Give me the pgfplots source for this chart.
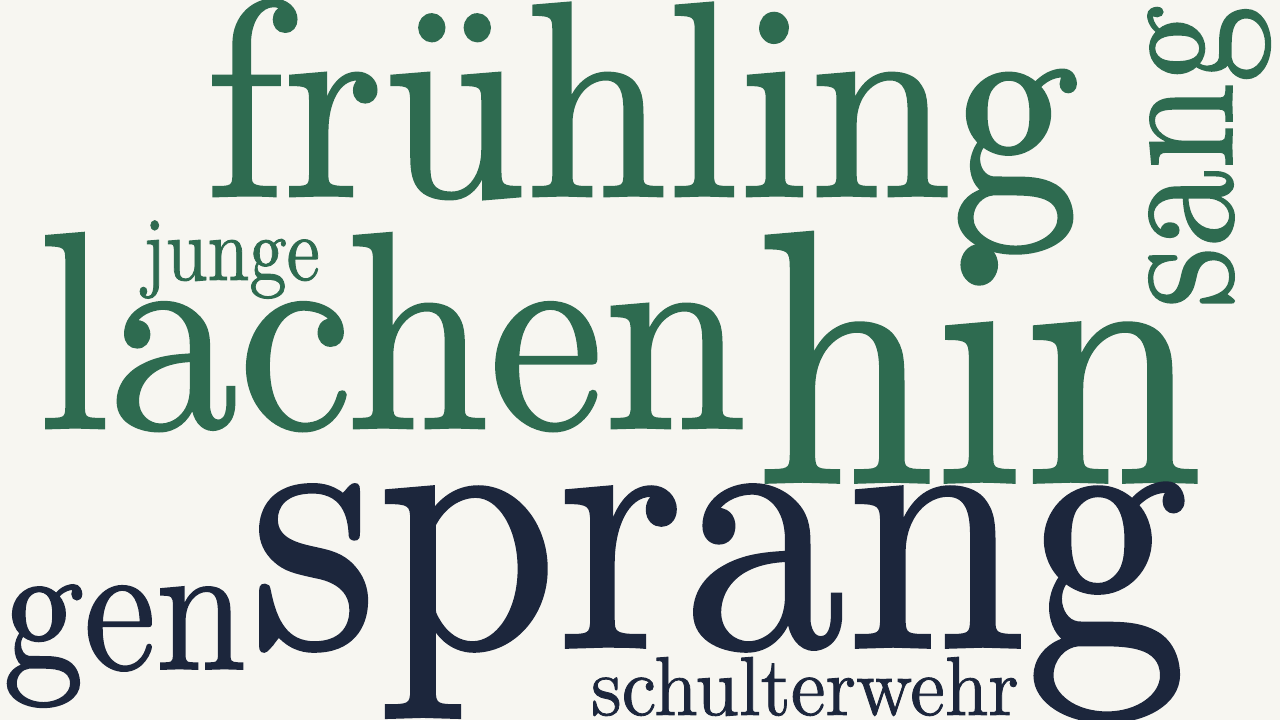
\documentclass[border=0pt]{standalone}
\usepackage{fontspec}
\usepackage{graphicx}
\usepackage{pgfplots}
\pgfplotsset{compat=1.18}

\newfontfamily\wordfont{Latin Modern Roman}[FakeBold=1]

\definecolor{paper}{RGB}{247,246,241}
\definecolor{leaf}{RGB}{46,107,80}
\definecolor{ink}{RGB}{28,38,60}

% one pixel of the 1280x720 picture
\newlength{\pxu}\setlength{\pxu}{0.01cm}
% a word stretched to a given width and x-height (both in pixels)
\newcommand{\fitword}[3]{\resizebox{#1\pxu}{#2\pxu}{\wordfont\smash{#3}\rule{0pt}{1ex}}}

\pgfplotsset{
  word/.style n args={4}{
    only marks, mark=none,
    nodes near coords={\fitword{#1}{#2}{#3}},
    every node near coord/.append style={anchor=base west, inner sep=0pt, outer sep=0pt, text=#4},
  },
}

\begin{document}
\begin{tikzpicture}
\begin{axis}[
    scale only axis,
    width=12.8cm, height=7.2cm,
    xmin=0, xmax=1280, ymin=0, ymax=720,
    enlargelimits=false,
    hide axis,
    clip=false,
]
% paper
\addplot[fill=paper, draw=none] coordinates {(0,0) (1280,0) (1280,720) (0,720)} -- cycle;

% words: (left end of baseline), width, x-height
\addplot[word={875}{120}{frühling}{leaf}] coordinates {(205,524)};
\addplot[word={709}{121}{lachen}{leaf}] coordinates {(38,292)};
\addplot[word={177}{39}{junge}{leaf}] coordinates {(143,440)};
\addplot[word={447}{155}{hin}{leaf}] coordinates {(756,238)};
\addplot[word={303}{80}{sang}{leaf}, every node near coord/.append style={rotate=90}] coordinates {(1232,412)};
\addplot[word={938}{156}{sprang}{ink}] coordinates {(250,73)};
\addplot[word={243}{80}{gen}{ink}] coordinates {(3,51)};
\addplot[word={428}{36}{schulterwehr}{ink}] coordinates {(591,5)};
\end{axis}
\pgfresetboundingbox
\path (current axis.south west) rectangle (current axis.north east);
\end{tikzpicture}
\end{document}
